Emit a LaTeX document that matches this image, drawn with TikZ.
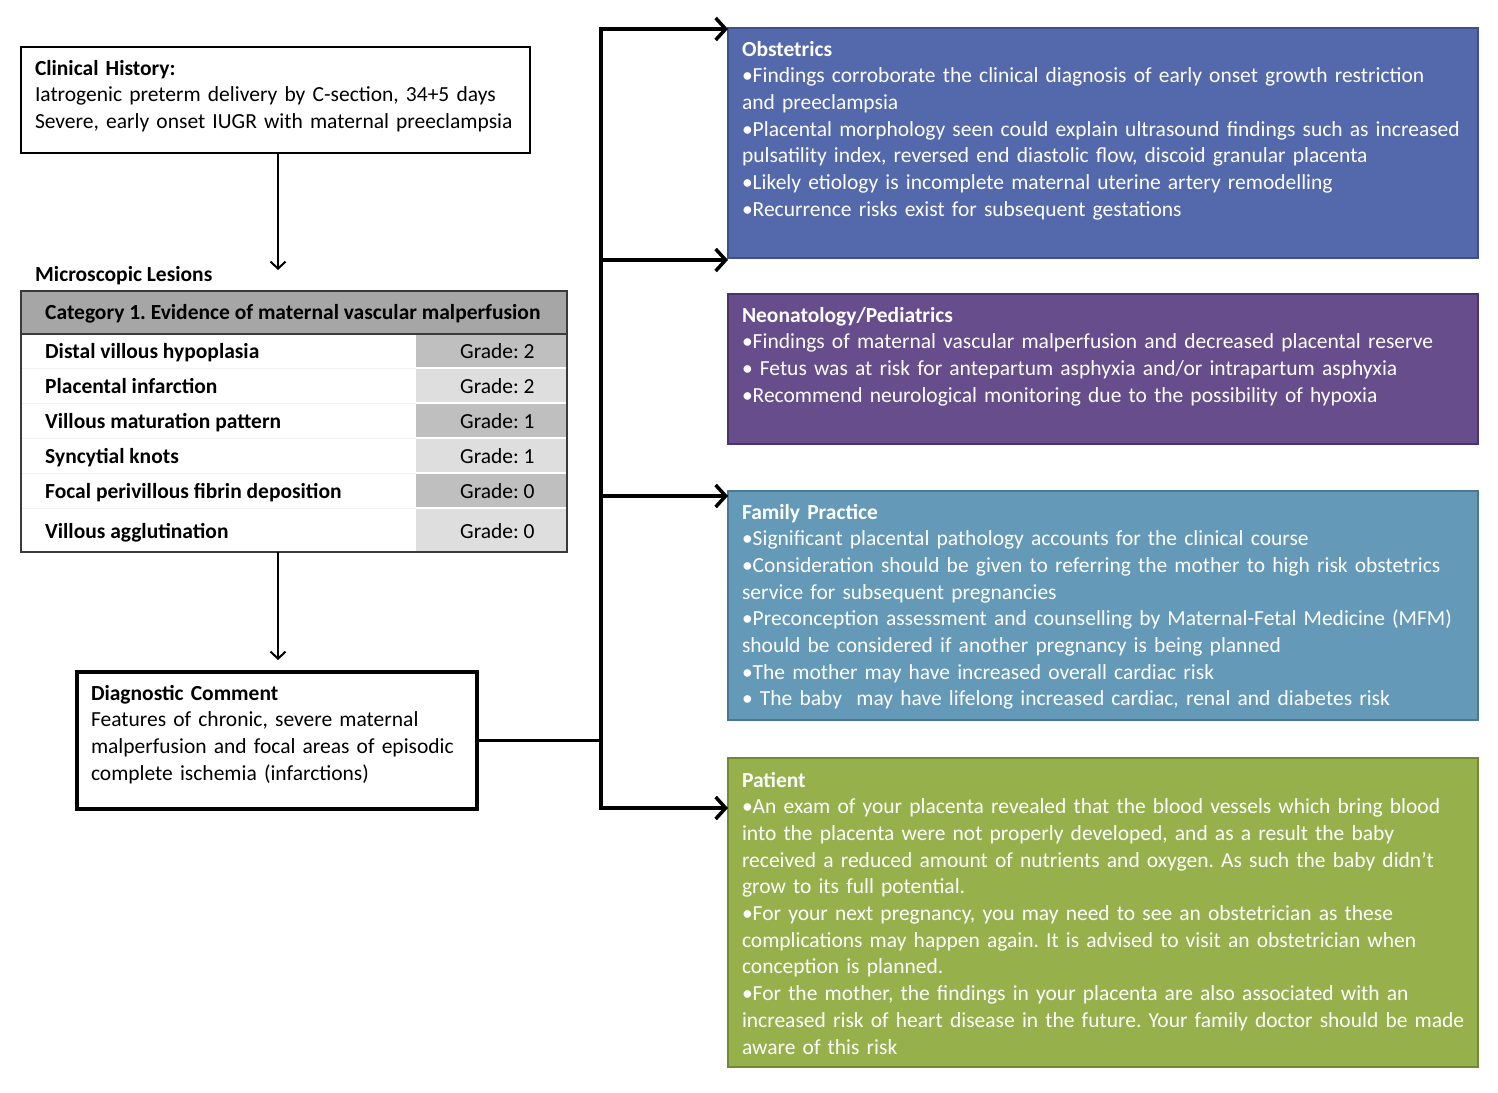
\documentclass[tikz,border=0pt]{standalone}
\usepackage{fontspec}
\setmainfont{Carlito}
\frenchspacing
\usetikzlibrary{arrows.meta}
\definecolor{obsfill}{HTML}{5468AC}
\definecolor{obsdraw}{HTML}{3E4F8C}
\definecolor{neofill}{HTML}{674D8C}
\definecolor{neodraw}{HTML}{4A3568}
\definecolor{famfill}{HTML}{6499B8}
\definecolor{famdraw}{HTML}{4A7894}
\definecolor{patfill}{HTML}{96B14C}
\definecolor{patdraw}{HTML}{6E8A32}
\definecolor{hdrfill}{HTML}{A6A6A6}
\definecolor{gdark}{HTML}{BFBFBF}
\definecolor{glight}{HTML}{DEDEDE}
\definecolor{tborder}{HTML}{3A3A3A}
\begin{document}
\begin{tikzpicture}[x=1pt,y=-1pt,
  fs/.style={font=\fontsize{21.5}{26.7}\selectfont\frenchspacing},
  txtblk/.style={anchor=base west, inner sep=0pt, outer sep=0pt, text width=750pt, align=left, fs},
  card/.style={anchor=north west, inner sep=0pt, outer sep=0pt, line width=2.5pt, minimum width=750pt},
  wbox/.style={anchor=north west, inner sep=0pt, outer sep=0pt, draw=black, fill=white},
  cell/.style={anchor=north west, inner sep=0pt, outer sep=0pt},
  lbl/.style={anchor=base west, inner sep=0pt, font=\fontsize{21.5}{24}\selectfont\bfseries},
  grd/.style={anchor=base west, inner sep=0pt, font=\fontsize{21.5}{24}\selectfont},
  smallarrow/.style={line width=2pt, -{Straight Barb[length=7pt,width=15pt,line width=2pt]}},
  bigline/.style={line width=3.5pt, line join=miter},
  bigarrow/.style={bigline, -{Straight Barb[length=10pt,width=22pt,line width=3.5pt]}},
]
\useasboundingbox (0,0) rectangle (1498,1092);

% ---------- Clinical history ----------
\node[wbox, line width=2.5pt, minimum width=509pt, minimum height=106pt] (ch) at (21,47) {};
\node[txtblk, text width=495pt] (cht) at (35,75) {\textbf{Clinical History:}\\Iatrogenic preterm delivery by C-section, 34+5 days\\Severe, early onset IUGR with maternal preeclampsia};

\node[lbl] (ml) at (35,281) {Microscopic Lesions};

% ---------- Table ----------
\node[cell, fill=hdrfill, minimum width=546pt, minimum height=43pt] (hdr) at (21,291) {};
\node[lbl, anchor=base west] (hdrt) at (45,319) {Category 1. Evidence of maternal vascular malperfusion};

\node[cell, fill=gdark, minimum width=151pt, minimum height=34pt] (g1) at (416,334) {};
\node[cell, fill=glight, minimum width=151pt, minimum height=35pt] (g2) at (416,368) {};
\node[cell, fill=gdark, minimum width=151pt, minimum height=35pt] (g3) at (416,403) {};
\node[cell, fill=glight, minimum width=151pt, minimum height=35pt] (g4) at (416,438) {};
\node[cell, fill=gdark, minimum width=151pt, minimum height=35pt] (g5) at (416,473) {};
\node[cell, fill=glight, minimum width=151pt, minimum height=44pt] (g6) at (416,508) {};
\foreach \yy in {368,403,438,473,508}{
  \draw[white, line width=1.5pt] (416,\yy) -- (567,\yy);
  \draw[black!5, line width=1pt] (21,\yy) -- (416,\yy);
}

\node[lbl] (r1) at (45,358) {Distal villous hypoplasia};
\node[lbl] (r2) at (45,393) {Placental infarction};
\node[lbl] (r3) at (45,428) {Villous maturation pattern};
\node[lbl] (r4) at (45,463) {Syncytial knots};
\node[lbl] (r5) at (45,498) {Focal perivillous fibrin deposition};
\node[lbl] (r6) at (45,538) {Villous agglutination};
\node[grd] (s1) at (460,358) {Grade: 2};
\node[grd] (s2) at (460,393) {Grade: 2};
\node[grd] (s3) at (460,428) {Grade: 1};
\node[grd] (s4) at (460,463) {Grade: 1};
\node[grd] (s5) at (460,498) {Grade: 0};
\node[grd] (s6) at (460,538) {Grade: 0};

\draw[tborder, line width=2pt] (21,334) -- (567,334);
\node[cell, draw=tborder, line width=2pt, minimum width=546pt, minimum height=261pt] (tbl) at (21,291) {};

% ---------- Diagnostic comment ----------
\node[wbox, line width=3.5pt, minimum width=400pt, minimum height=137pt] (dc) at (77,672) {};
\node[txtblk, text width=385pt] (dct) at (91,700) {\textbf{Diagnostic Comment}\\Features of chronic, severe maternal\\malperfusion and focal areas of episodic\\complete ischemia (infarctions)};

% ---------- left arrows ----------
\coordinate (a1) at (278,270);
\draw[smallarrow] (ch.south -| a1) -- (a1);
\coordinate (a2) at (278,660);
\draw[smallarrow] (tbl.south -| a2) -- (a2);

% ---------- Right cards ----------
\node[card, fill=obsfill, draw=obsdraw, minimum height=230pt] (obs) at (728,28) {};
\node[txtblk, white] (obst) at (742,56) {\textbf{Obstetrics}\\
•Findings corroborate the clinical diagnosis of early onset growth restriction\\
and preeclampsia\\
•Placental morphology seen could explain ultrasound findings such as increased\\
pulsatility index, reversed end diastolic flow, discoid granular placenta\\
•Likely etiology is incomplete maternal uterine artery remodelling\\
•Recurrence risks exist for subsequent gestations};

\node[card, fill=neofill, draw=neodraw, minimum height=150pt] (neo) at (728,294) {};
\node[txtblk, white] (neot) at (742,322) {\textbf{Neonatology/Pediatrics}\\
•Findings of maternal vascular malperfusion and decreased placental reserve\\
• Fetus was at risk for antepartum asphyxia and/or intrapartum asphyxia\\
•Recommend neurological monitoring due to the possibility of hypoxia};

\node[card, fill=famfill, draw=famdraw, minimum height=229pt] (fam) at (728,491) {};
\node[txtblk, white] (famt) at (742,519) {\textbf{Family Practice}\\
•Significant placental pathology accounts for the clinical course\\
•Consideration should be given to referring the mother to high risk obstetrics\\
service for subsequent pregnancies\\
•Preconception assessment and counselling by Maternal-Fetal Medicine (MFM)\\
should be considered if another pregnancy is being planned\\
•The mother may have increased overall cardiac risk\\
• The baby\ \ may have lifelong increased cardiac, renal and diabetes risk};

\node[card, fill=patfill, draw=patdraw, minimum height=309pt] (pat) at (728,758) {};
\node[txtblk, white] (patt) at (742,787) {\textbf{Patient}\\
•An exam of your placenta revealed that the blood vessels which bring blood\\
into the placenta were not properly developed, and as a result the baby\\
received a reduced amount of nutrients and oxygen. As such the baby didn’t\\
grow to its full potential.\\
•For your next pregnancy, you may need to see an obstetrician as these\\
complications may happen again. It is advised to visit an obstetrician when\\
conception is planned.\\
•For the mother, the findings in your placenta are also associated with an\\
increased risk of heart disease in the future. Your family doctor should be made\\
aware of this risk};

% ---------- Right connectors ----------
\coordinate (jn) at (601,740.5);
\coordinate (top) at (601,29);
\coordinate (b2) at (601,260);
\coordinate (b3) at (601,496);
\coordinate (bot) at (601,808);
\draw[bigline] (dc.east) -- (dc.east -| jn);
\draw[bigarrow] (jn) -- (top) -- (top -| obs.west);
\draw[bigarrow] (jn) -- (bot) -- (bot -| pat.west);
\draw[bigarrow] (b2) -- (b2 -| obs.west);
\draw[bigarrow] (b3) -- (b3 -| fam.west);
\end{tikzpicture}
\end{document}
